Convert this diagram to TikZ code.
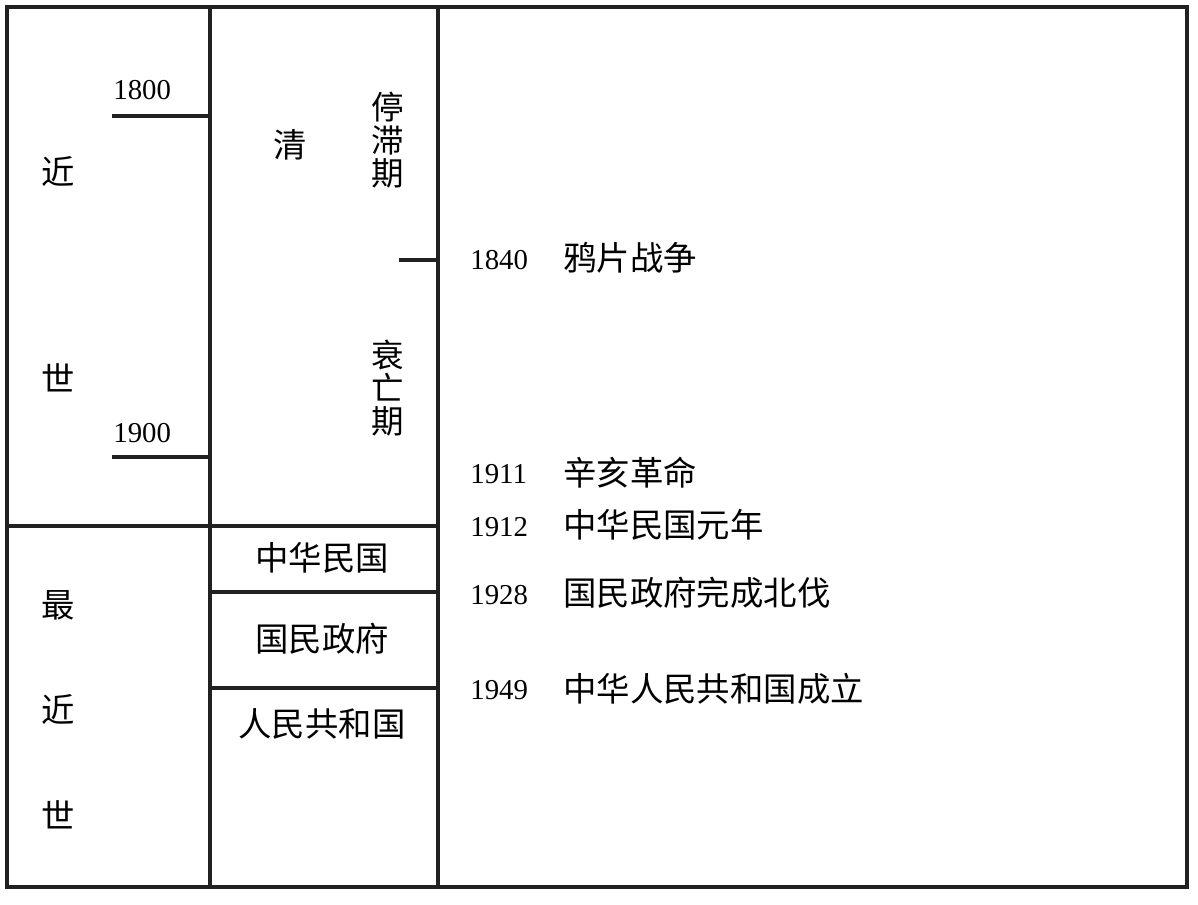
\documentclass[tikz,border=0pt]{standalone}
\usepackage{fontspec}
\setmainfont{Liberation Serif}
\newfontfamily\cjk{Noto Sans CJK SC}
\begin{document}
\begin{tikzpicture}[x=0.02cm,y=-0.02cm,
        rule/.style={draw=black!87, line width=2pt},
        yr/.style={anchor=west, inner sep=0pt, font=\fontsize{16.4}{19}\selectfont},
        cn/.style={inner sep=0pt, font=\fontsize{19}{19}\selectfont\cjk},
        ev/.style={cn, anchor=west},
        stack/.style={cn, align=center, font=\fontsize{18.5}{18.8}\selectfont\cjk}]
        \fill[white] (0,0) rectangle (1198,905);
        \useasboundingbox (0,0) rectangle (1198,905);
        % frame and columns
        \draw[rule] (7,7) rectangle (1187,887);
        \draw[rule] (210,7) -- (210,887);
        \draw[rule] (438,7) -- (438,887);
        \draw[rule] (7,526) -- (438,526);
        \draw[rule] (210,592) -- (438,592);
        \draw[rule] (210,688) -- (438,688);
        % ticks
        \draw[rule] (112,116) -- (210,116);
        \draw[rule] (112,457) -- (210,457);
        \draw[rule] (399,260) -- (438,260);
        % first column
        \node[cn] (jin1) at (58,172) {近};
        \node[cn] (shi1) at (58,378) {世};
        \node[cn] (zui) at (58,605) {最};
        \node[cn] (jin2) at (58,710) {近};
        \node[cn] (shi2) at (58,815) {世};
        \node[yr] (y1800) at (113,90) {1800};
        \node[yr] (y1900) at (113,433) {1900};
        % dynasties
        \node[cn] (qing) at (290,145) {清};
        \node[stack] (tingzhi) at (388,140) {停\\滞\\期};
        \node[stack] (shuaiwang) at (388,388) {衰\\亡\\期};
        \node[cn] (minguo) at (322,558) {中华民国};
        \node[cn] (zhengfu) at (322,639) {国民政府};
        \node[cn] (renmin) at (322,724) {人民共和国};
        % events
        \node[yr] (y1840) at (470,260) {1840};
        \node[ev] (yapian) at (563,258) {鸦片战争};
        \node[yr] (y1911) at (470,474) {1911};
        \node[ev] (xinhai) at (563,473) {辛亥革命};
        \node[yr] (y1912) at (470,527) {1912};
        \node[ev] (yuannian) at (563,525) {中华民国元年};
        \node[yr] (y1928) at (470,595) {1928};
        \node[ev] (beifa) at (563,593) {国民政府完成北伐};
        \node[yr] (y1949) at (470,690) {1949};
        \node[ev] (chengli) at (563,689) {中华人民共和国成立};
\end{tikzpicture}
\end{document}
